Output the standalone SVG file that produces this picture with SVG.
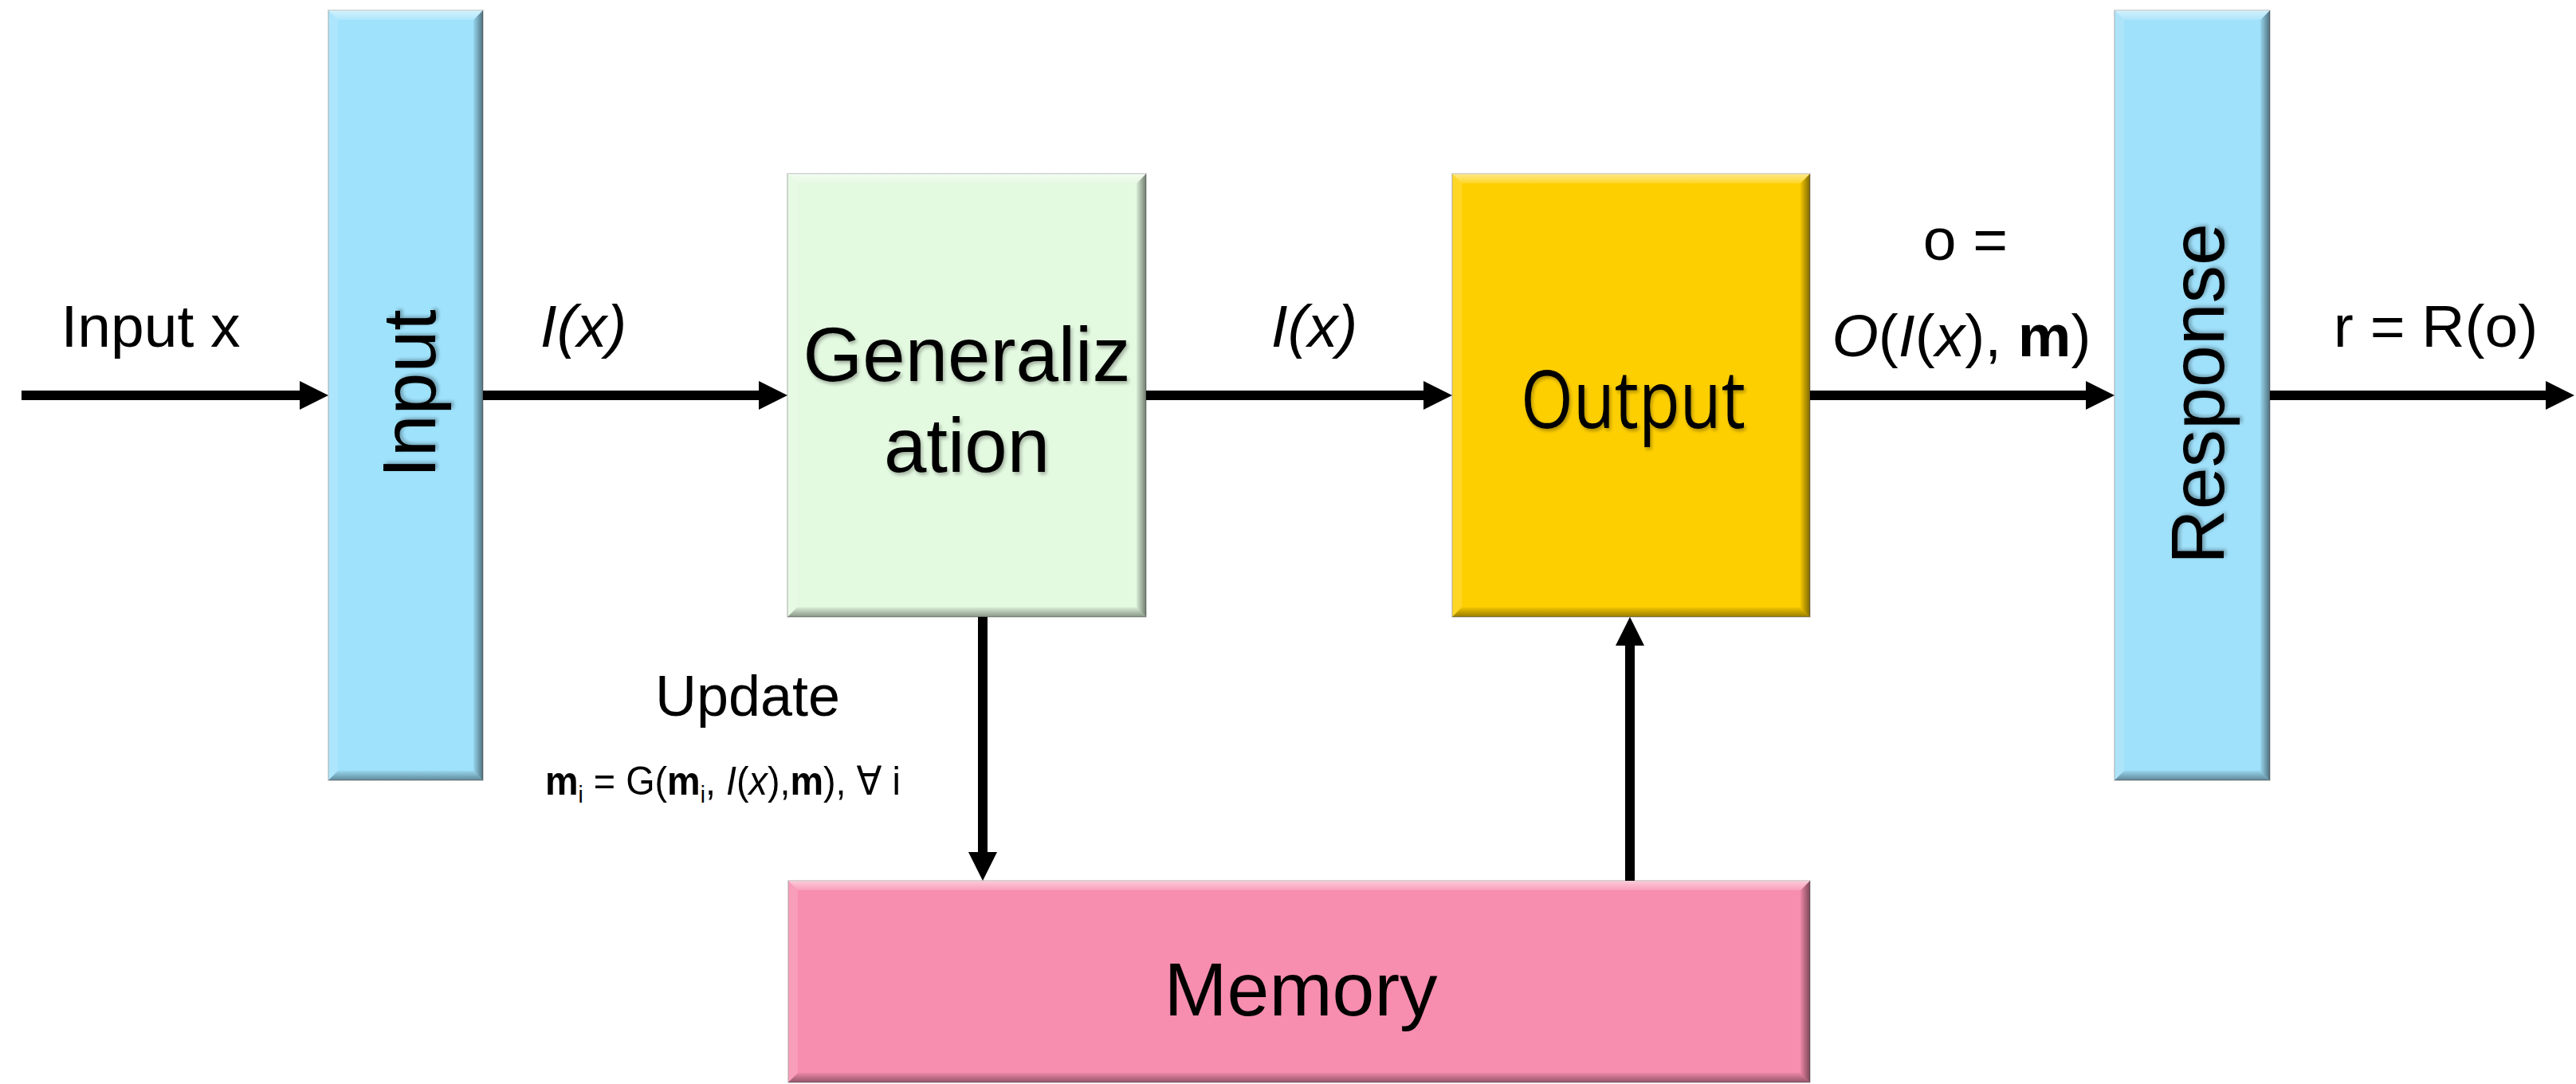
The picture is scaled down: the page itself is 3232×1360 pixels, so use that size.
<svg xmlns="http://www.w3.org/2000/svg" width="3232" height="1360" viewBox="0 0 3232 1360">
  <defs>
    <style>
      .lbl { font-family: "Liberation Sans", Arial, "DejaVu Sans", sans-serif; font-size: 75px; fill: #000; }
      .node { font-family: "Liberation Sans", Arial, sans-serif; font-size: 95px; fill: #000; filter: url(#txtShadow); }
      .fml { font-family: "Liberation Sans", Arial, "DejaVu Sans", sans-serif; font-size: 50px; fill: #000; }
      .sub { font-size: 30px; baseline-shift: -10px; }
      .it { font-style: italic; }
      .bd { font-weight: bold; }
      .box { stroke: #8a8a8a; stroke-opacity: 0.5; stroke-width: 1.5; }
      .bvT { fill: url(#bvTop); }
      .bvL { fill: #ffffff; fill-opacity: 0.15; }
      .bvR { fill: url(#bvRight); }
      .bvB { fill: url(#bvBottom); }
      .conn { stroke: #000; stroke-width: 12; fill: none; }
    </style>
    <linearGradient id="bvTop" x1="0" y1="0" x2="0" y2="1">
      <stop offset="0" stop-color="#ffffff" stop-opacity="0.55"/>
      <stop offset="1" stop-color="#ffffff" stop-opacity="0.15"/>
    </linearGradient>
    <linearGradient id="bvRight" x1="0" y1="0" x2="1" y2="0">
      <stop offset="0" stop-color="#000000" stop-opacity="0.05"/>
      <stop offset="1" stop-color="#000000" stop-opacity="0.5"/>
    </linearGradient>
    <linearGradient id="bvBottom" x1="0" y1="0" x2="0" y2="1">
      <stop offset="0" stop-color="#000000" stop-opacity="0.05"/>
      <stop offset="1" stop-color="#000000" stop-opacity="0.4"/>
    </linearGradient>
    <filter id="txtShadow" x="-10%" y="-10%" width="130%" height="140%">
      <feGaussianBlur in="SourceAlpha" stdDeviation="2"/>
      <feOffset dx="2" dy="3" result="sh"/>
      <feComponentTransfer><feFuncA type="linear" slope="0.3"/></feComponentTransfer>
      <feMerge><feMergeNode/><feMergeNode in="SourceGraphic"/></feMerge>
    </filter>
    <marker id="ah" markerUnits="userSpaceOnUse" markerWidth="36" markerHeight="36" viewBox="0 0 36 36" refX="0" refY="18" orient="auto">
      <path d="M0,0 L36,18 L0,36 z" fill="#000"/>
    </marker>
  </defs>

  <rect width="3232" height="1360" fill="#ffffff"/>

  <!-- Input block -->
  <g id="input">
    <rect class="box" x="412" y="13" width="194" height="966" fill="#9fe2fc"/>
    <polygon class="bvT" points="412,13 606,13 594,25 424,25"/>
    <polygon class="bvL" points="412,13 424,25 424,967 412,979"/>
    <polygon class="bvR" points="606,13 606,979 594,967 594,25"/>
    <polygon class="bvB" points="412,979 424,967 594,967 606,979"/>
    <text class="node" transform="translate(546,494) rotate(-90)" text-anchor="middle">Input</text>
  </g>

  <!-- Generalization block -->
  <g id="generalization">
    <rect class="box" x="988" y="218" width="450" height="556" fill="#e3f9e0"/>
    <polygon class="bvT" points="988,218 1438,218 1426,230 1000,230"/>
    <polygon class="bvL" points="988,218 1000,230 1000,762 988,774"/>
    <polygon class="bvR" points="1438,218 1438,774 1426,762 1426,230"/>
    <polygon class="bvB" points="988,774 1000,762 1426,762 1438,774"/>
    <text class="node" style="font-size:96px" x="1213" y="478" text-anchor="middle">Generaliz</text>
    <text class="node" style="font-size:96px" x="1213" y="592" text-anchor="middle">ation</text>
  </g>

  <!-- Output block -->
  <g id="output">
    <rect class="box" x="1822" y="218" width="449" height="556" fill="#fecf00"/>
    <polygon class="bvT" points="1822,218 2271,218 2259,230 1834,230"/>
    <polygon class="bvL" points="1822,218 1834,230 1834,762 1822,774"/>
    <polygon class="bvR" points="2271,218 2271,774 2259,762 2259,230"/>
    <polygon class="bvB" points="1822,774 1834,762 2259,762 2271,774"/>
    <text class="node" style="font-family:'Open Sans','Noto Sans',sans-serif;font-size:100px" x="2049" y="537" text-anchor="middle" textLength="282" lengthAdjust="spacingAndGlyphs">Output</text>
  </g>

  <!-- Response block -->
  <g id="response">
    <rect class="box" x="2653" y="13" width="195" height="966" fill="#9fe0fa"/>
    <polygon class="bvT" points="2653,13 2848,13 2836,25 2665,25"/>
    <polygon class="bvL" points="2653,13 2665,25 2665,967 2653,979"/>
    <polygon class="bvR" points="2848,13 2848,979 2836,967 2836,25"/>
    <polygon class="bvB" points="2653,979 2665,967 2836,967 2848,979"/>
    <text class="node" transform="translate(2790,494) rotate(-90)" text-anchor="middle">Response</text>
  </g>

  <!-- Memory block -->
  <g id="memory">
    <rect class="box" x="989" y="1105" width="1282" height="253" fill="#f78daf"/>
    <polygon class="bvT" points="989,1105 2271,1105 2259,1117 1001,1117"/>
    <polygon class="bvL" points="989,1105 1001,1117 1001,1346 989,1358"/>
    <polygon class="bvR" points="2271,1105 2271,1358 2259,1346 2259,1117"/>
    <polygon class="bvB" points="989,1358 1001,1346 2259,1346 2271,1358"/>
    <text class="node" style="filter:none" x="1632" y="1274" text-anchor="middle">Memory</text>
  </g>

  <!-- Connectors -->
  <g id="connectors">
    <path class="conn" d="M27,496 H376" marker-end="url(#ah)"/>
    <path class="conn" d="M606,496 H952" marker-end="url(#ah)"/>
    <path class="conn" d="M1438,496 H1786" marker-end="url(#ah)"/>
    <path class="conn" d="M2271,496 H2617" marker-end="url(#ah)"/>
    <path class="conn" d="M2848,496 H3194" marker-end="url(#ah)"/>
    <path class="conn" d="M1233,774 V1069" marker-end="url(#ah)"/>
    <path class="conn" d="M2045,1105 V810" marker-end="url(#ah)"/>
  </g>

  <!-- Connector labels -->
  <g id="labels">
    <text class="lbl" x="189" y="435" text-anchor="middle">Input x</text>
    <text class="lbl it" x="732" y="435" text-anchor="middle">I(x)</text>
    <text class="lbl it" x="1649" y="435" text-anchor="middle">I(x)</text>
    <text class="lbl" x="2466" y="326" text-anchor="middle">o =</text>
    <text class="lbl" x="2461" y="447" text-anchor="middle"><tspan class="it">O</tspan>(<tspan class="it">I</tspan>(<tspan class="it">x</tspan>), <tspan class="bd">m</tspan>)</text>
    <text class="lbl" x="3056" y="435" text-anchor="middle">r = R(o)</text>
    <text class="lbl" style="font-size:72px" x="938" y="898" text-anchor="middle">Update</text>
    <text class="fml" x="684" y="997" textLength="446" lengthAdjust="spacingAndGlyphs"><tspan class="bd">m</tspan><tspan class="sub">i</tspan> = G(<tspan class="bd">m</tspan><tspan class="sub">i</tspan>, <tspan class="it">I</tspan>(<tspan class="it">x</tspan>),<tspan class="bd">m</tspan>), ∀ i</text>
  </g>
</svg>
